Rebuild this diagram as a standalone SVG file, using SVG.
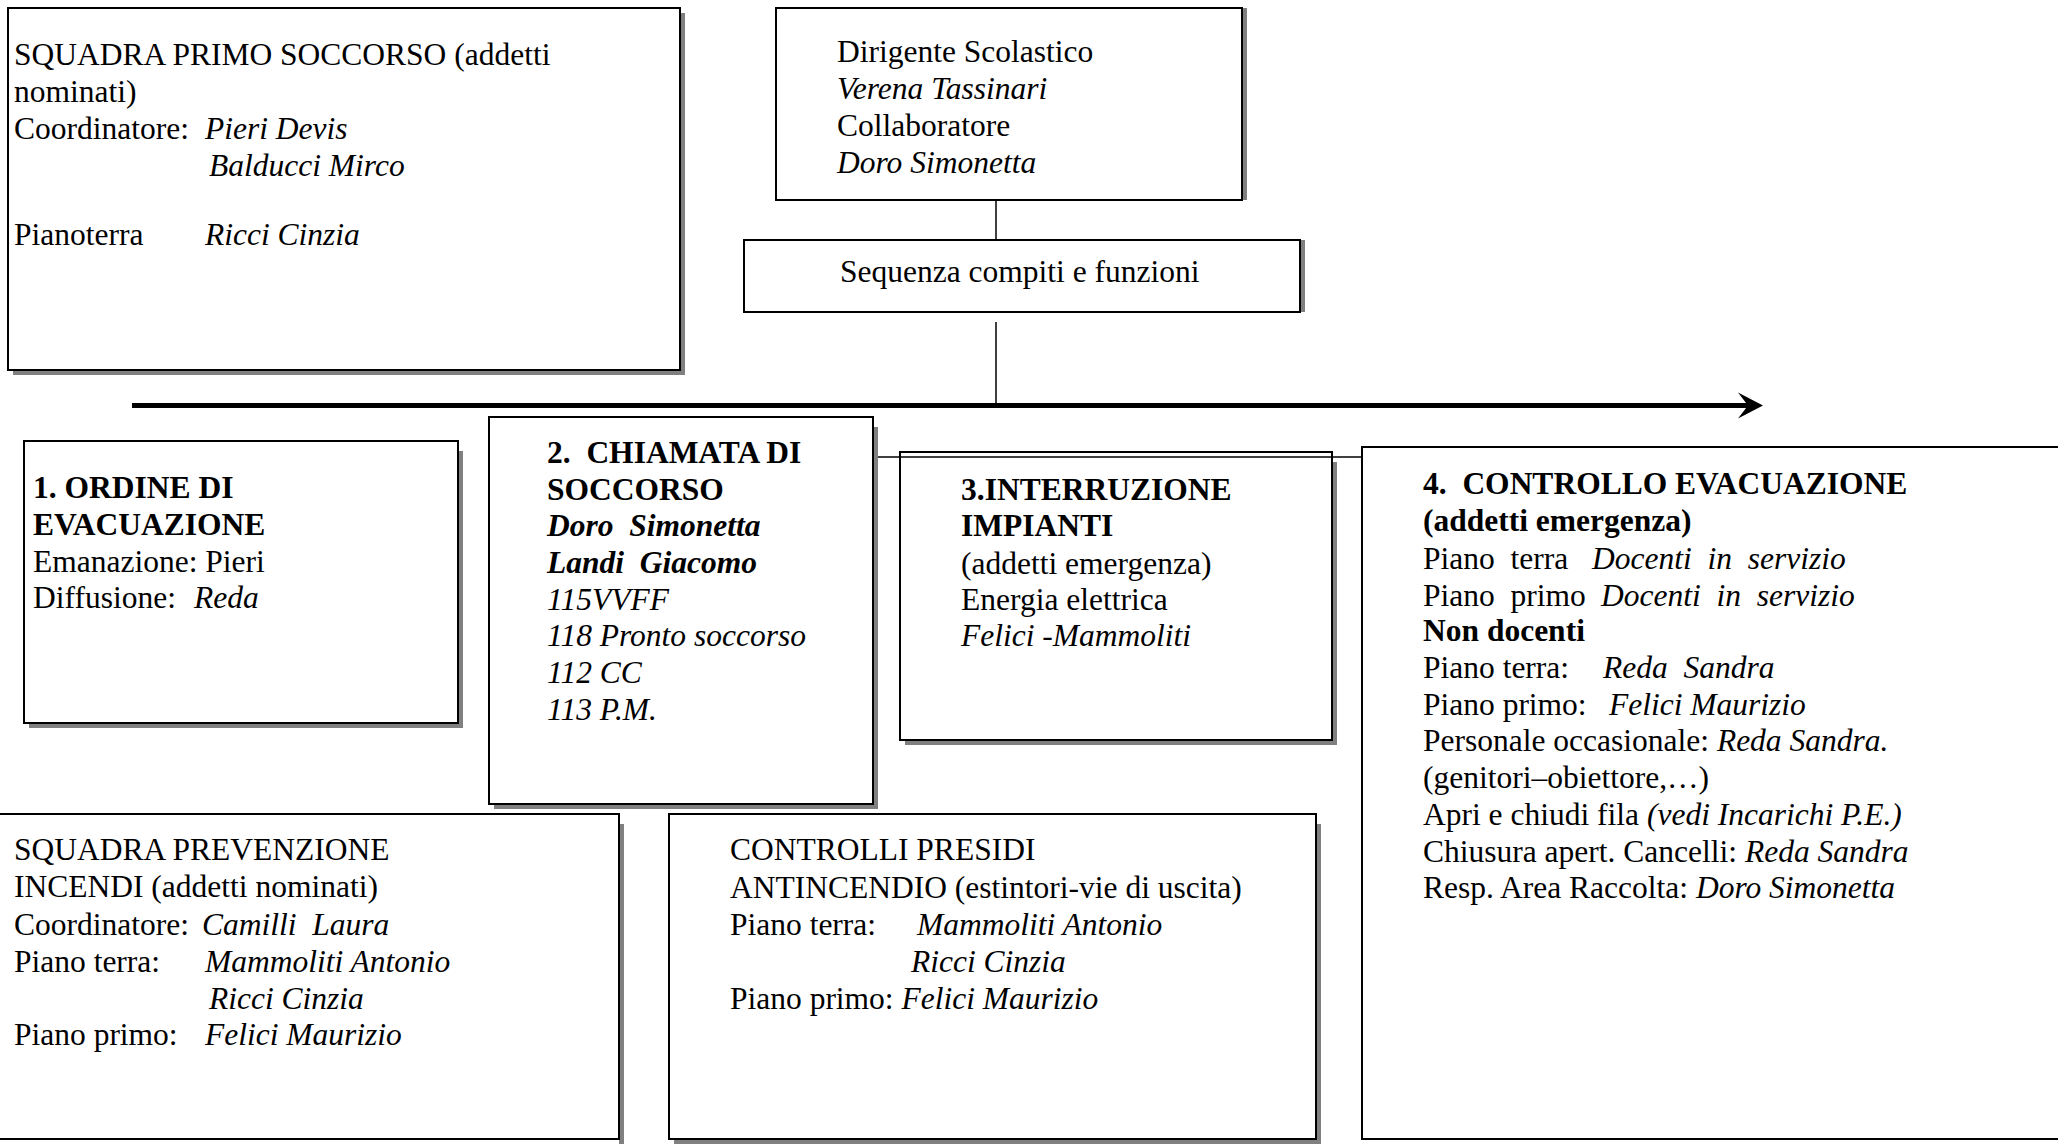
<svg xmlns="http://www.w3.org/2000/svg" width="2058" height="1145" viewBox="0 0 2058 1145" xml:space="preserve">
<style>
.box{fill:#fff;stroke:#000;stroke-width:2}
.sh{fill:#808080}
text{font-family:"Liberation Serif","Times New Roman",serif;font-size:31.5px;fill:#000;white-space:pre}
.i{font-style:italic}
.b{font-weight:bold}
.ln{stroke:#000;stroke-width:1.5;fill:none}
</style>
<defs>
<marker id="ah" markerUnits="userSpaceOnUse" markerWidth="30" markerHeight="30" refX="10" refY="13" orient="auto" viewBox="0 0 30 26"><polygon points="0,0 25,13 0,26 10,13" fill="#000"/></marker>
</defs>
<rect width="2058" height="1145" fill="#fff"/>
<g id="connectors">
<line class="ln" x1="996" y1="200" x2="996" y2="240"/>
<line class="ln" x1="996" y1="322" x2="996" y2="405"/>
<line x1="132" y1="405.5" x2="1748" y2="405.5" stroke="#000" stroke-width="5" marker-end="url(#ah)"/>
</g>
<g id="squadra-primo-soccorso">
<rect class="sh" x="13" y="13" width="672" height="362"/>
<rect class="box" x="8" y="8" width="672" height="362"/>
<text x="14" y="65">SQUADRA PRIMO SOCCORSO (addetti</text>
<text x="14" y="102">nominati)</text>
<text x="14" y="139">Coordinatore: <tspan class="i" x="205">Pieri Devis</tspan></text>
<text class="i" x="209" y="176">Balducci Mirco</text>
<text x="14" y="245">Pianoterra<tspan class="i" x="205">Ricci Cinzia</tspan></text>
</g>
<g id="dirigente">
<rect class="sh" x="1242" y="8" width="5" height="192"/>
<rect class="box" x="776" y="8" width="466" height="192"/>
<text x="837" y="62">Dirigente Scolastico</text>
<text class="i" x="837" y="99">Verena Tassinari</text>
<text x="837" y="136">Collaboratore</text>
<text class="i" x="837" y="173">Doro Simonetta</text>
</g>
<g id="sequenza">
<rect class="sh" x="1300" y="240" width="5" height="72"/>
<rect class="box" x="744" y="240" width="556" height="72"/>
<text x="840" y="282">Sequenza compiti e funzioni</text>
</g>
<g id="ordine-evacuazione">
<rect class="sh" x="29" y="451" width="434" height="277"/>
<rect class="box" x="24" y="441" width="434" height="282"/>
<text class="b" x="33" y="498">1. ORDINE DI</text>
<text class="b" x="33" y="535">EVACUAZIONE</text>
<text x="33" y="572">Emanazione: Pieri</text>
<text x="33" y="608">Diffusione: <tspan class="i" x="194">Reda</tspan></text>
</g>
<g id="chiamata-soccorso">
<rect class="sh" x="494" y="427" width="384" height="382"/>
<rect class="box" x="489" y="417" width="384" height="387"/>
<text class="b" x="547" y="463">2.  CHIAMATA DI</text>
<text class="b" x="547" y="500">SOCCORSO</text>
<text class="b i" x="547" y="536">Doro  Simonetta</text>
<text class="b i" x="547" y="573">Landi  Giacomo</text>
<text class="i" x="547" y="610">115VVFF</text>
<text class="i" x="547" y="646">118 Pronto soccorso</text>
<text class="i" x="547" y="683">112 CC</text>
<text class="i" x="547" y="720">113 P.M.</text>
</g>
<g id="interruzione-impianti">
<rect class="sh" x="905" y="462" width="432" height="283"/>
<rect class="box" x="900" y="452" width="432" height="288"/>
<text class="b" x="961" y="500">3.INTERRUZIONE</text>
<text class="b" x="961" y="536">IMPIANTI</text>
<text x="961" y="574">(addetti emergenza)</text>
<text x="961" y="610">Energia elettrica</text>
<text class="i" x="961" y="646">Felici -Mammoliti</text>
</g>
<g id="connector-2-4">
<line class="ln" x1="878" y1="457" x2="1362" y2="457"/>
</g>
<g id="controllo-evacuazione">
<rect class="box" x="1362" y="447" width="720" height="692"/>
<text class="b" x="1423" y="494">4.  CONTROLLO EVACUAZIONE</text>
<text class="b" x="1423" y="531">(addetti emergenza)</text>
<text x="1423" y="569">Piano  terra<tspan class="i" x="1592">Docenti  in  servizio</tspan></text>
<text x="1423" y="606">Piano  primo<tspan class="i" x="1601">Docenti  in  servizio</tspan></text>
<text class="b" x="1423" y="641">Non docenti</text>
<text x="1423" y="678">Piano terra:<tspan class="i" x="1603">Reda  Sandra</tspan></text>
<text x="1423" y="715">Piano primo:<tspan class="i" x="1609">Felici Maurizio</tspan></text>
<text x="1423" y="751">Personale occasionale: <tspan class="i">Reda Sandra.</tspan></text>
<text x="1423" y="788">(genitori–obiettore,…)</text>
<text x="1423" y="825">Apri e chiudi fila <tspan class="i">(vedi Incarichi P.E.)</tspan></text>
<text x="1423" y="862">Chiusura apert. Cancelli: <tspan class="i">Reda Sandra</tspan></text>
<text x="1423" y="898">Resp. Area Raccolta: <tspan class="i">Doro Simonetta</tspan></text>
</g>
<g id="squadra-prevenzione-incendi">
<rect class="sh" x="619" y="824" width="5" height="320"/>
<rect class="box" x="-5" y="814" width="624" height="325"/>
<text x="14" y="860">SQUADRA PREVENZIONE</text>
<text x="14" y="897">INCENDI (addetti nominati)</text>
<text x="14" y="935">Coordinatore: <tspan class="i" x="202">Camilli  Laura</tspan></text>
<text x="14" y="972">Piano terra:<tspan class="i" x="205">Mammoliti Antonio</tspan></text>
<text class="i" x="209" y="1009">Ricci Cinzia</text>
<text x="14" y="1045">Piano primo:<tspan class="i" x="205">Felici Maurizio</tspan></text>
</g>
<g id="controlli-presidi">
<rect class="sh" x="674" y="824" width="647" height="320"/>
<rect class="box" x="669" y="814" width="647" height="325"/>
<text x="730" y="860">CONTROLLI PRESIDI</text>
<text x="730" y="898">ANTINCENDIO (estintori-vie di uscita)</text>
<text x="730" y="935">Piano terra:<tspan class="i" x="917">Mammoliti Antonio</tspan></text>
<text class="i" x="911" y="972">Ricci Cinzia</text>
<text x="730" y="1009">Piano primo: <tspan class="i">Felici Maurizio</tspan></text>
</g>
</svg>
